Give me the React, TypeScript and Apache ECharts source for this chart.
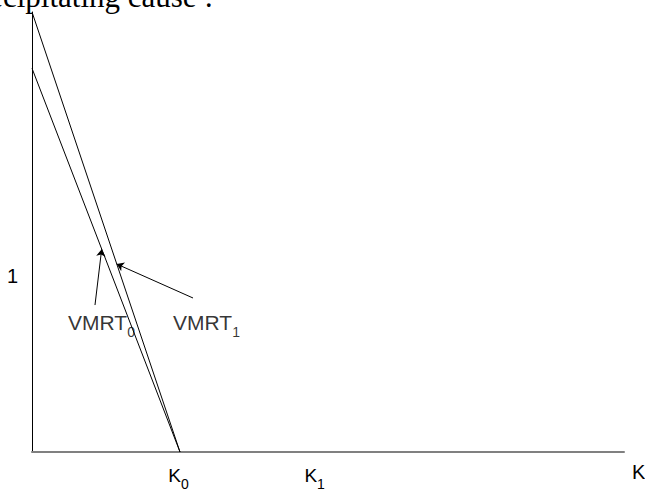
import React, { useEffect, useRef } from 'react';
import * as echarts from 'echarts';

// ---- data ----
const xMax = 100;
const yMax = 2.5;
const curveVMRT1 = [[0, 2.5], [25, 0]];
const curveVMRT0 = [[0, 2.18], [25, 0]];
const xTickValues = [25, 48];
const xTickSubs = ['0', '1'];
const yTickValues = [1];
const yTickLabels = ['1'];
const arrowFrom = [[10.64, 0.835], [27.2, 0.875]];
const arrowTo = [[11.77, 1.152], [14.31, 1.068]];
const curveLabelPos = [[11.74, 0.736], [29.48, 0.736]];
const curveLabelMain = ['VMRT', 'VMRT'];
const curveLabelSub = ['0', '1'];
const xAxisName = 'K';
const caption = 'precipitating cause :';

const SANS = '"Liberation Sans", Arial, sans-serif';
const SERIF = '"Liberation Serif", "Times New Roman", serif';

export default function App() {
  const ref = useRef<HTMLDivElement>(null);
  useEffect(() => {
    if (!ref.current) return;
    const chart = echarts.init(ref.current, undefined, { renderer: 'svg' });
    const option: any = {
      animation: false,
      grid: { left: 32, top: 12, right: 21, bottom: 43, containLabel: false, outerBoundsMode: 'none' },
      xAxis: {
        type: 'value',
        min: 0,
        max: xMax,
        name: xAxisName,
        nameLocation: 'end',
        nameGap: 8,
        nameTextStyle: {
          fontFamily: SANS, fontSize: 20, color: '#000',
          verticalAlign: 'top', lineHeight: 20, padding: [10, 0, 0, 0],
        },
        axisLine: { show: true, onZero: false, lineStyle: { color: '#808080', width: 2 } },
        axisTick: { show: false },
        splitLine: { show: false },
        axisLabel: {
          customValues: xTickValues,
          margin: 14,
          formatter: (v: number) => {
            const i = xTickValues.indexOf(v);
            return i < 0 ? '' : `{m|K}{s|${xTickSubs[i]}}`;
          },
          rich: {
            m: { fontFamily: SANS, fontSize: 19, lineHeight: 19, color: '#000' },
            s: { fontFamily: SANS, fontSize: 14, lineHeight: 14, color: '#000', padding: [17, 3, 0, 0] },
          },
        },
      },
      yAxis: {
        type: 'value',
        min: 0,
        max: yMax,
        axisLine: { show: true, onZero: false, lineStyle: { color: '#000', width: 1 } },
        axisTick: { show: false },
        splitLine: { show: false },
        axisLabel: {
          customValues: yTickValues,
          margin: 14,
          fontFamily: SANS,
          fontSize: 20,
          color: '#000',
          formatter: (v: number) => {
            const i = yTickValues.indexOf(v);
            return i < 0 ? '' : yTickLabels[i];
          },
        },
      },
      series: [
        {
          type: 'line',
          name: 'VMRT1',
          data: curveVMRT1,
          symbol: 'none',
          silent: true,
          lineStyle: { color: '#000', width: 1 },
          markLine: {
            silent: true,
            symbol: ['none', 'arrow'],
            symbolSize: 7,
            label: { show: false },
            lineStyle: { color: '#000', width: 1, type: 'solid' },
            emphasis: { disabled: true },
            data: arrowFrom.map((f, i) => [{ coord: f }, { coord: arrowTo[i] }]),
          },
        },
        {
          type: 'line',
          name: 'VMRT0',
          data: curveVMRT0,
          symbol: 'none',
          silent: true,
          lineStyle: { color: '#000', width: 1 },
        },
        {
          type: 'scatter',
          silent: true,
          symbolSize: 1,
          itemStyle: { color: 'rgba(0,0,0,0)' },
          data: curveLabelPos.map((p, i) => ({ value: p, name: curveLabelMain[i] + curveLabelSub[i] })),
          label: {
            show: true,
            position: 'inside',
            formatter: (p: any) => `{a|${curveLabelMain[p.dataIndex]}}{b|${curveLabelSub[p.dataIndex]}}`,
            rich: {
              a: { fontFamily: SANS, fontSize: 21, lineHeight: 21, color: '#000' },
              b: { fontFamily: SANS, fontSize: 14, lineHeight: 14, color: '#000', padding: [20, 0, 0, 0] },
            },
          },
        },
      ],
      graphic: [
        {
          type: 'text',
          x: 213,
          y: -4,
          silent: true,
          style: {
            text: caption,
            align: 'right',
            verticalAlign: 'middle',
            fontFamily: SERIF,
            fontSize: 31,
            fill: '#000',
          },
        },
      ],
    };
    chart.setOption(option);
    return () => chart.dispose();
  }, []);
  return (
    <div
      ref={ref}
      style={{ position: 'fixed', left: 0, top: 0, width: 645, height: 495, background: '#fff' }}
    />
  );
}
